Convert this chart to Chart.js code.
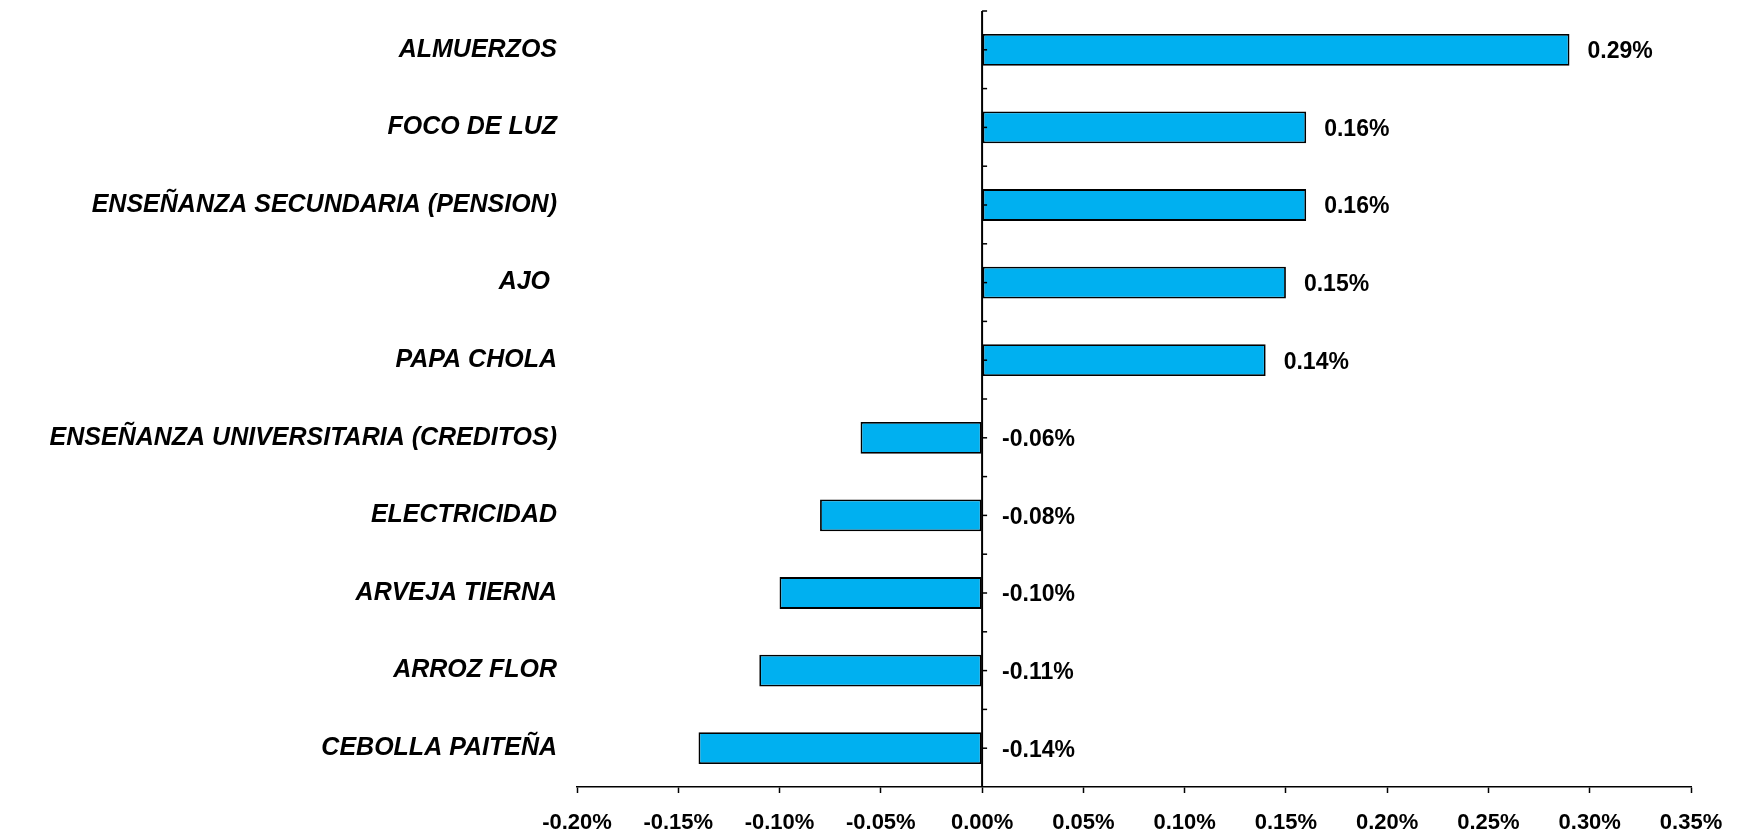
<!DOCTYPE html>
<html>
<head>
<meta charset="utf-8">
<script src="https://cdn.jsdelivr.net/npm/chart.js@4.4.1/dist/chart.umd.min.js"></script>
<style>
  html, body { margin: 0; padding: 0; background: #fff; }
  #wrap { width: 1742px; height: 831px; position: relative; }
</style>
</head>
<body>
<div id="wrap"><canvas id="chart"></canvas></div>
<script>
// Datos del grafico
const categorias = [
    'ALMUERZOS',
    'FOCO DE LUZ',
    'ENSEÑANZA SECUNDARIA (PENSION)',
    'AJO ',
    'PAPA CHOLA',
    'ENSEÑANZA UNIVERSITARIA (CREDITOS)',
    'ELECTRICIDAD',
    'ARVEJA TIERNA',
    'ARROZ FLOR',
    'CEBOLLA PAITEÑA'
];
const valores = [0.29, 0.16, 0.16, 0.15, 0.14, -0.06, -0.08, -0.10, -0.11, -0.14];
const ejeMin = -0.20;
const ejeMax = 0.35;
const ejePaso = 0.05;

const fuente = 'Liberation Sans, Arial, Helvetica, sans-serif';

// Eje vertical en el cero con sus marcas
const ejeCero = {
    id: 'ejeCero',
    afterDatasetsDraw(chart) {
        const ctx = chart.ctx;
        const x = chart.scales.x;
        const y = chart.scales.y;
        const x0 = x.getPixelForValue(0);
        const area = chart.chartArea;
        ctx.save();
        ctx.strokeStyle = '#000';
        ctx.lineWidth = 2;
        ctx.beginPath();
        ctx.moveTo(x0, area.top);
        ctx.lineTo(x0, area.bottom);
        ctx.stroke();
        ctx.lineWidth = 1.5;
        const paso = (y.getPixelForValue(1) - y.getPixelForValue(0)) / 2;
        for (let i = 0; i < categorias.length; i++) {
            const c = y.getPixelForValue(i);
            [c - paso, c].forEach(py => {
                ctx.beginPath();
                ctx.moveTo(x0, py);
                ctx.lineTo(x0 + 5, py);
                ctx.stroke();
            });
        }
        ctx.restore();
    }
};

// Etiquetas de valores
const etiquetas = {
    id: 'etiquetas',
    afterDatasetsDraw(chart) {
        const ctx = chart.ctx;
        const meta = chart.getDatasetMeta(0);
        const x0 = chart.scales.x.getPixelForValue(0);
        ctx.save();
        ctx.font = 'bold 23px ' + fuente;
        ctx.fillStyle = '#000';
        ctx.textBaseline = 'middle';
        ctx.textAlign = 'left';
        meta.data.forEach((bar, i) => {
            const v = valores[i];
            const px = v >= 0 ? bar.x + 18 : x0 + 20;
            ctx.fillText(v.toFixed(2) + '%', px, bar.y + 2);
        });
        ctx.restore();
    }
};

new Chart(document.getElementById('chart'), {
    type: 'bar',
    data: {
        labels: categorias,
        datasets: [{
            data: valores,
            backgroundColor: '#00B0F0',
            borderColor: '#000',
            borderWidth: 1.8,
            borderSkipped: false,
            barPercentage: 0.41,
            categoryPercentage: 1
        }]
    },
    options: {
        indexAxis: 'y',
        responsive: true,
        maintainAspectRatio: false,
        animation: false,
        layout: {
            padding: { top: 11, right: 51, bottom: 0, left: 0 }
        },
        plugins: {
            legend: { display: false },
            tooltip: { enabled: false }
        },
        scales: {
            x: {
                min: ejeMin,
                max: ejeMax,
                border: { display: true, color: '#000', width: 1.5 },
                grid: {
                    drawOnChartArea: false,
                    drawTicks: true,
                    tickLength: 6,
                    tickColor: '#000',
                    tickWidth: 1.5
                },
                ticks: {
                    stepSize: ejePaso,
                    padding: 17,
                    maxRotation: 0,
                    color: '#000',
                    font: { family: fuente, size: 22, weight: 'bold' },
                    callback: v => v.toFixed(2) + '%'
                },
                afterFit(s) { s.height = 44; }
            },
            y: {
                border: { display: false },
                grid: { display: false },
                ticks: {
                    padding: 12,
                    color: '#000',
                    font: { family: fuente, size: 25, weight: 'bold', style: 'italic' }
                },
                afterFit(s) {
                    s.width = 577;
                    s.paddingTop = 0;
                    s.paddingBottom = 0;
                }
            }
        }
    },
    plugins: [ejeCero, etiquetas]
});
</script>
</body>
</html>
